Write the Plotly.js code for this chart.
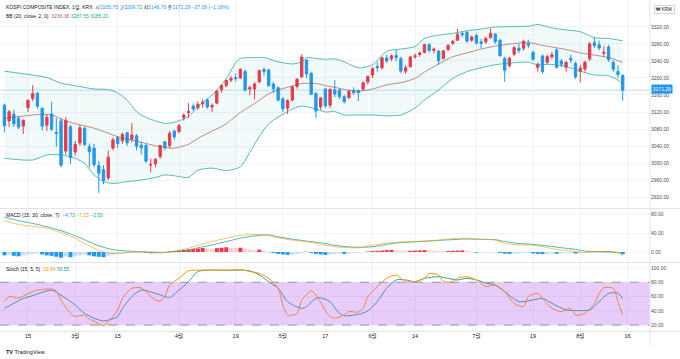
<!DOCTYPE html>
<html><head><meta charset="utf-8">
<script src="https://cdn.plot.ly/plotly-3.0.1.min.js"></script>
<style>html,body{margin:0;padding:0;background:#fff}#chart{width:680px;height:359px}</style>
</head><body><div id="chart"></div>
<script>
// ---- data: KOSPI daily, 2021 (MM-DD) ----
const dates=['02-04','02-05','02-08','02-09','02-10',
'02-15','02-16','02-17','02-18','02-19','02-22','02-23','02-24','02-25','02-26',
'03-02','03-03','03-04','03-05','03-08','03-09','03-10','03-11','03-12','03-15',
'03-16','03-17','03-18','03-19','03-22','03-23','03-24','03-25','03-26','03-29',
'03-30','03-31','04-01','04-02','04-05','04-06','04-07','04-08','04-09','04-12',
'04-13','04-14','04-15','04-16','04-19','04-20','04-21','04-22','04-23','04-26',
'04-27','04-28','04-29','04-30','05-03','05-04','05-06','05-07','05-10','05-11',
'05-12','05-13','05-14','05-17','05-18','05-20','05-21','05-24','05-25','05-26',
'05-27','05-28','05-31','06-01','06-02','06-03','06-04','06-07','06-08','06-09',
'06-10','06-11','06-14','06-15','06-16','06-17','06-18','06-21','06-22','06-23',
'06-24','06-25','06-28','06-29','06-30','07-01','07-02','07-05','07-06','07-07',
'07-08','07-09','07-12','07-13','07-14','07-15','07-16','07-19','07-20','07-21',
'07-22','07-23','07-26','07-27','07-28','07-29','07-30','08-02','08-03','08-04',
'08-05','08-06','08-09','08-10','08-11','08-12','08-13'];

const openP=[3136,3099,3115,3105,3087,
3130,3152,3164,3129,3089,3115,3072,3099,3028,3085,
3026,3047,3082,3038,3035,2994,2984,2965,3035,3060,
3052,3071,3056,3064,3042,3041,2995,2998,3015,3050,
3041,3075,3074,3107,3118,3134,3130,3139,3148,3132,
3141,3172,3182,3195,3201,3200,3215,3174,3174,3191,
3220,3219,3186,3177,3151,3129,3148,3180,3203,3242,
3211,3164,3132,3174,3136,3172,3172,3156,3154,3170,
3170,3174,3191,3207,3227,3224,3247,3245,3253,3246,
3216,3227,3250,3255,3260,3278,3265,3263,3246,3267,
3282,3289,3305,3307,3289,3300,3285,3285,3295,3303,
3289,3246,3229,3256,3270,3270,3281,3260,3225,3252,
3237,3250,3266,3240,3225,3246,3234,3215,3221,3245,
3283,3278,3258,3273,3237,3215,3205.75];

const highP=[3140,3125,3125,3110,3102,
3150,3183,3167,3131,3115,3144,3106,3105,3108,3090,
3052,3090,3085,3046,3045,3005,2995,3030,3060,3063,
3072,3073,3094,3068,3050,3045,3010,3012,3043,3052,
3075,3078,3092,3116,3141,3140,3145,3150,3152,3140,
3172,3185,3196,3205,3210,3222,3220,3182,3190,3220,
3225,3222,3190,3180,3155,3150,3182,3200,3256,3245,
3215,3166,3155,3176,3176,3195,3175,3160,3172,3178,
3172,3192,3205,3226,3238,3250,3255,3255,3266,3250,
3230,3252,3258,3262,3280,3282,3272,3266,3266,3280,
3290,3316,3310,3310,3300,3304,3292,3297,3316,3306,
3292,3250,3250,3275,3280,3290,3290,3265,3236,3255,
3255,3262,3270,3245,3240,3255,3238,3230,3240,3285,
3295,3288,3275,3278,3242,3230,3209.72];

const lowP=[3072,3085,3085,3080,3068,
3120,3145,3128,3077,3075,3075,3038,2990,3020,2998,
3018,3040,3040,2990,2990,2930,2950,2960,3030,3035,
3045,3040,3048,3030,3020,3000,2978,2990,3010,3030,
3035,3055,3070,3100,3106,3122,3125,3130,3128,3120,
3138,3165,3178,3190,3192,3198,3168,3160,3150,3188,
3205,3180,3165,3145,3120,3115,3145,3175,3200,3200,
3160,3106,3125,3130,3130,3155,3150,3140,3150,3160,
3145,3170,3185,3200,3215,3220,3235,3240,3240,3212,
3210,3224,3245,3250,3258,3260,3258,3231,3244,3263,
3278,3287,3296,3283,3285,3278,3270,3280,3293,3280,
3250,3191,3225,3252,3258,3265,3270,3240,3215,3210,
3232,3245,3222,3225,3215,3235,3198,3190,3215,3240,
3270,3265,3250,3238,3215,3200,3146.76];

const closeP=[3087.55,3120.63,3091.96,3084.67,3100.58,
3147.00,3163.25,3133.73,3086.66,3107.62,3079.75,3070.09,2994.98,3099.69,3012.95,
3043.87,3082.99,3043.49,3026.26,2996.11,2976.12,2958.12,3013.70,3054.39,3045.71,
3067.17,3047.50,3066.01,3039.53,3035.46,3004.74,2996.35,3008.33,3041.01,3036.04,
3070.00,3061.42,3087.40,3112.80,3120.83,3127.20,3137.77,3143.26,3131.88,3135.59,
3169.08,3182.38,3194.33,3198.84,3198.62,3220.70,3171.66,3177.52,3186.10,3217.53,
3215.42,3181.47,3174.07,3147.86,3127.20,3147.00,3178.74,3197.20,3249.30,3209.43,
3161.66,3122.11,3153.32,3134.52,3173.05,3162.28,3156.42,3144.30,3168.43,3165.51,
3165.25,3188.73,3203.92,3221.87,3223.94,3247.43,3240.08,3252.12,3247.83,3216.18,
3224.20,3249.32,3252.13,3258.63,3278.68,3264.96,3267.93,3240.79,3263.88,3276.19,
3286.10,3302.84,3301.89,3286.68,3296.68,3282.06,3281.78,3293.21,3305.21,3285.34,
3252.68,3217.95,3246.47,3271.38,3264.81,3286.22,3276.91,3244.04,3232.70,3215.17,
3250.21,3254.42,3224.95,3232.61,3236.86,3242.65,3202.32,3223.04,3237.14,3280.38,
3276.13,3270.36,3260.42,3243.19,3220.62,3208.38,3171.29];

// Bollinger Bands (20, close, 2)
const bbUpper=[['02-04',3216],['02-16',3207],['02-19',3201],['02-24',3188],['03-03',3180],['03-08',3174],['03-11',3173],['03-15',3165],['03-17',3148],['03-19',3121],['03-23',3107],['03-25',3099],['03-29',3093],['03-31',3096],['04-05',3109],['04-07',3133],['04-12',3160],['04-15',3198],['04-19',3236],['04-20',3246],['04-23',3248],['04-27',3248],['04-30',3238],['05-06',3233],['05-10',3238],['05-11',3248],['05-13',3246],['05-17',3244],['05-20',3245],['05-24',3238],['05-27',3224],['06-01',3231],['06-04',3263],['06-09',3268],['06-14',3274],['06-16',3293],['06-21',3301],['06-24',3305],['06-29',3311],['07-02',3315],['07-07',3320],['07-13',3321],['07-16',3322],['07-20',3326],['07-23',3318],['07-28',3313],['08-02',3309],['08-05',3295],['08-10',3293],['08-13',3287.55]];
const bbBasis=[['02-04',3105],['02-09',3109],['02-17',3114],['02-22',3113],['02-25',3099],['03-03',3090],['03-08',3082],['03-11',3070],['03-15',3062],['03-18',3054],['03-23',3046],['03-26',3038],['03-31',3035],['04-05',3044],['04-07',3058],['04-12',3075],['04-15',3092],['04-20',3119],['04-23',3140],['04-28',3163],['04-30',3172],['05-06',3181],['05-10',3187],['05-13',3187],['05-17',3182],['05-20',3178],['05-24',3173],['05-27',3169],['06-01',3174],['06-04',3184],['06-09',3189],['06-14',3199],['06-16',3214],['06-21',3233],['06-24',3250],['06-29',3259],['07-02',3268],['07-07',3275],['07-13',3281],['07-16',3284],['07-20',3279],['07-23',3273],['07-28',3267],['08-02',3259],['08-05',3254],['08-09',3250],['08-11',3245],['08-13',3236.38]];
const bbLower=[['02-04',3011],['02-16',3007],['02-19',3019],['02-24',3019],['03-02',3011],['03-04',2999],['03-08',2972],['03-10',2956],['03-12',2952],['03-17',2956],['03-22',2960],['03-25',2966],['03-29',2972],['03-31',2970],['04-05',2966],['04-07',2983],['04-12',2988],['04-15',2982],['04-20',2991],['04-22',3025],['04-26',3062],['04-28',3092],['04-30',3108],['05-06',3127],['05-10',3134],['05-13',3127],['05-17',3120],['05-20',3121],['05-24',3113],['05-27',3113],['06-01',3113],['06-04',3111],['06-09',3113],['06-14',3129],['06-16',3148],['06-21',3172],['06-24',3199],['06-29',3215],['07-02',3224],['07-07',3231],['07-13',3236],['07-16',3237],['07-20',3231],['07-23',3232],['07-28',3227],['08-02',3216],['08-05',3207],['08-10',3205],['08-12',3195],['08-13',3185.2]];

// MACD (15, 30, close, 7)
const macdHist=[-7,-6,-8,-9,-7,
-5,-4,-3,-5,-7,-8,-10,-12,-9,-11,
-9,-7,-5,-7,-9,-10,-11,-8,-6,-4.5,
-3.5,-2.5,-1.8,-1.2,-0.8,-1.5,-2.5,-2,-1,-0.5,
1,2,3,4.5,5.5,6.5,7.5,8.5,7.5,7,
8,9,10,9,8,9,7,5,4,5,
3,-0.5,-2,-4,-5,-6,-5.5,-4,-2,0.5,
-2,-4,-5,-6,-5,-4,-3,-4,-3,-2,
-1.5,-0.5,1,2,2.5,3,4,4.5,3.5,2.5,
2,2.5,3,3.5,4,3.5,3,2,1.5,2,
2.5,3,3.5,2.5,1,-1.5,-1.2,-1,-0.8,-0.6,
-2,-3.5,-4,-3,-2.5,-2,-1.5,-3,-4,-4.5,
-4,-3,-3.5,-3,-2.5,-2,-3,-2.5,-1.5,0.5,
1,1.5,2,2.2,1.5,0.5,-4.73];
const macdLine=[['02-04',66],['02-09',58],['02-16',54],['02-19',50],['02-24',41],['03-02',29],['03-04',18],['03-08',8],['03-10',0],['03-12',-3],['03-16',-2],['03-19',0],['03-23',-1],['03-26',-2],['03-31',2],['04-05',8],['04-07',14],['04-12',22],['04-15',29],['04-20',35],['04-23',37],['04-28',35],['04-30',30],['05-06',25],['05-11',22],['05-14',16],['05-20',11],['05-25',9],['05-27',9],['06-01',14],['06-04',19],['06-09',21],['06-14',22],['06-17',24],['06-21',25],['06-24',28.5],['06-29',28.5],['07-02',26.5],['07-07',25],['07-09',18],['07-14',15],['07-19',14.5],['07-22',9],['07-27',4],['07-30',1.5],['08-03',-1.5],['08-05',0.5],['08-10',1],['08-12',-1.2],['08-13',-7.23]];
const macdSignal=[['02-04',73],['02-09',66],['02-17',58],['02-24',45],['03-03',30],['03-09',13],['03-12',5],['03-18',1.5],['03-24',0],['03-29',-0.7],['03-31',0.7],['04-05',4],['04-07',9],['04-12',15],['04-15',22],['04-20',29],['04-23',34],['04-28',36],['04-30',32],['05-06',27],['05-11',23],['05-14',19.5],['05-20',14],['05-25',11],['05-27',10],['06-01',11],['06-04',16],['06-09',20],['06-14',21.5],['06-17',23],['06-21',24.5],['06-24',26],['06-29',27.5],['07-02',26.7],['07-07',26],['07-09',22],['07-14',18],['07-19',16],['07-22',13],['07-27',9],['07-30',5.6],['08-03',2],['08-05',0.7],['08-10',0],['08-12',-1.5],['08-13',-2.5]];

// Stochastic (15, 5, 5)
const stochK=[['02-04',53],['02-05',60],['02-09',58],['02-15',64],['02-17',69],['02-22',70.5],['02-23',68],['02-24',55],['02-26',36],['03-02',32],['03-04',34],['03-05',28.5],['03-08',25.5],['03-10',19],['03-11',24.5],['03-15',41],['03-16',57],['03-18',71.5],['03-22',72],['03-23',67],['03-25',55],['03-26',54],['03-29',60],['03-30',76],['04-01',85.5],['04-05',96],['04-07',97],['04-12',97],['04-14',97],['04-16',97],['04-20',98],['04-22',95],['04-26',92.5],['04-28',85.5],['04-30',71.5],['05-03',48],['05-04',34],['05-07',36],['05-10',55],['05-12',67.7],['05-13',62],['05-14',52],['05-17',40],['05-18',32],['05-20',29.5],['05-24',34],['05-25',38.8],['05-27',38],['05-28',43.4],['05-31',59.8],['06-02',73.8],['06-04',85.5],['06-08',90.2],['06-10',80.8],['06-14',80.8],['06-16',85.5],['06-17',92.5],['06-21',90],['06-22',80.8],['06-24',80.8],['06-25',85.5],['06-29',87.8],['07-01',83.2],['07-02',78.5],['07-05',73.8],['07-07',76],['07-09',66.8],['07-13',50.4],['07-15',45.7],['07-16',59.8],['07-20',64.4],['07-21',57.4],['07-23',43.4],['07-27',38.8],['07-29',43.4],['07-30',34],['08-03',36.4],['08-05',50.4],['08-06',64.4],['08-09',72.4],['08-11',71.5],['08-12',52.7],['08-13',33.94]];
const stochD=[['02-04',43.4],['02-08',50.4],['02-10',57.4],['02-16',61.2],['02-18',65.8],['02-22',69],['02-24',62],['03-02',48],['03-04',36.4],['03-08',29.4],['03-10',25.6],['03-11',27],['03-15',31.7],['03-16',43.4],['03-18',59.8],['03-22',69],['03-25',64.4],['03-29',60],['03-30',58.4],['04-01',69],['04-05',80.8],['04-07',95],['04-09',97],['04-14',97],['04-16',97],['04-20',97],['04-22',96],['04-26',90.2],['04-28',80.8],['04-30',71.5],['05-04',52.7],['05-10',43.4],['05-11',45.7],['05-13',57.4],['05-14',58],['05-17',56],['05-18',52.7],['05-21',36.4],['05-24',33],['05-27',35],['05-31',39.7],['06-02',52.7],['06-04',71.5],['06-08',83.2],['06-10',83.2],['06-14',80.8],['06-16',85.5],['06-21',87.8],['06-23',85.5],['06-25',83.2],['06-29',85.5],['07-01',83.2],['07-05',79],['07-07',76.1],['07-09',66.8],['07-14',52.7],['07-19',55.1],['07-21',57.4],['07-23',50.4],['07-28',41.1],['08-02',40.2],['08-04',41.1],['08-06',52.7],['08-10',64.4],['08-12',64.4],['08-13',56.55]];

const tickDates=['02-15','03-02','03-15','04-01','04-19','05-03','05-17','06-01','06-14','07-01','07-19','08-02','08-16'];
const tickLabels=['15','3월','15','4월','19','5월','17','6월','14','7월','19','8월','16'];

// ---- drawing ----
const N=dates.length;
const xs=dates.map((d,i)=>i);
const pos=d=>{const i=dates.indexOf(d);return i>=0?i:N;};
const series=p=>{const q=p.filter(v=>dates.indexOf(v[0])>=0);return {x:q.map(v=>dates.indexOf(v[0])),y:q.map(v=>v[1])};};

const UP='#f23645', DOWN='#2196f3', TEAL='#26a69a', ORANGE='#ff9800', BASIS='#b5655c';
const FONT='"Liberation Sans", Arial, "Noto Sans CJK KR", sans-serif';

const histColors=macdHist.map((h,i)=>{
  const p=i>0?macdHist[i-1]:h;
  if(h>=0) return h>=p?'#f23645':'#ffcdd2';
  return h<=p?'#2196f3':'#bbdefb';
});

const U=series(bbUpper), B=series(bbBasis), L=series(bbLower);
const M=series(macdLine), S=series(macdSignal);
const K=series(stochK), Dd=series(stochD);
const sp={shape:'spline',smoothing:0.7};

const traces=[
 {type:'scatter',mode:'lines',x:U.x,y:U.y,line:Object.assign({color:'rgba(38,166,154,0.75)',width:1},sp),xaxis:'x',yaxis:'y',hoverinfo:'skip'},
 {type:'scatter',mode:'lines',x:L.x,y:L.y,line:Object.assign({color:'rgba(38,166,154,0.75)',width:1},sp),fill:'tonexty',fillcolor:'rgba(38,166,154,0.06)',xaxis:'x',yaxis:'y',hoverinfo:'skip'},
 {type:'scatter',mode:'lines',x:B.x,y:B.y,line:Object.assign({color:'rgba(160,80,70,0.65)',width:1},sp),xaxis:'x',yaxis:'y',hoverinfo:'skip'},
 {type:'candlestick',x:xs,open:openP,high:highP,low:lowP,close:closeP,xaxis:'x',yaxis:'y',whiskerwidth:0,
   increasing:{line:{color:UP,width:1},fillcolor:UP},decreasing:{line:{color:DOWN,width:1},fillcolor:DOWN},hoverinfo:'skip'},
 {type:'bar',x:xs,y:macdHist,marker:{color:histColors,line:{width:0}},width:0.85,xaxis:'x',yaxis:'y2',hoverinfo:'skip'},
 {type:'scatter',mode:'lines',x:S.x,y:S.y,line:Object.assign({color:'rgba(38,166,154,0.8)',width:1},sp),xaxis:'x',yaxis:'y2',hoverinfo:'skip'},
 {type:'scatter',mode:'lines',x:M.x,y:M.y,line:Object.assign({color:'rgba(255,152,0,0.6)',width:1},sp),xaxis:'x',yaxis:'y2',hoverinfo:'skip'},
 {type:'scatter',mode:'lines',x:Dd.x,y:Dd.y,line:Object.assign({color:TEAL,width:1},sp),xaxis:'x',yaxis:'y3',hoverinfo:'skip'},
 {type:'scatter',mode:'lines',x:K.x,y:K.y,line:Object.assign({color:ORANGE,width:1},sp),xaxis:'x',yaxis:'y3',hoverinfo:'skip'}
];

const last=N-1;
const f2=v=>(v<0?'−':'')+Math.abs(v).toFixed(2);
const chg=closeP[last]-closeP[last-1];
const pct=chg/closeP[last-1]*100;
const col=(c,t)=>`<span style="color:${c}">${t}</span>`;
const priceCol=chg<0?DOWN:UP;
const line1='KOSPI COMPOSITE INDEX, 1일, KRX&nbsp;&nbsp;시'+col(priceCol,f2(openP[last]))+' 고'+col(priceCol,f2(highP[last]))+
  ' 저'+col(priceCol,f2(lowP[last]))+' 종'+col(priceCol,f2(closeP[last]))+' '+col(priceCol,f2(chg)+' ('+f2(pct)+'%)');
const line2='BB (20, close, 2, 0)&nbsp;&nbsp;'+col(BASIS,f2(B.y[B.y.length-1]))+' '+col(TEAL,f2(U.y[U.y.length-1]))+' '+col(TEAL,f2(L.y[L.y.length-1]));
const line3='MACD (15, 30, close, 7)&nbsp;&nbsp;'+col(DOWN,f2(macdHist[last]))+' '+col(ORANGE,f2(M.y[M.y.length-1]))+' '+col(TEAL,f2(S.y[S.y.length-1]));
const line4='Stoch (15, 5, 5)&nbsp;&nbsp;'+col(ORANGE,f2(K.y[K.y.length-1]))+' '+col(TEAL,f2(Dd.y[Dd.y.length-1]));

const PH=331; // plot area height in px
const py=px=>(PH-px)/PH;
const grid='#f0f3fa', sep='#e0e3eb';
const tickfont={size:5,color:'#4a4e59',family:FONT};

const priceTicks=[];for(let v=2920;v<=3320;v+=40)priceTicks.push(v);

const layout={
 width:680,height:359,margin:{l:0,r:30,t:0,b:28},
 paper_bgcolor:'#fff',plot_bgcolor:'#fff',showlegend:false,hovermode:false,
 font:{family:FONT,size:5,color:'#131722'},
 bargap:0.1,
 xaxis:{type:'linear',range:[-0.93,136.78],anchor:'y3',tickvals:tickDates.map(pos),ticktext:tickLabels,
   showgrid:true,gridcolor:grid,gridwidth:1,zeroline:false,showline:false,ticks:'',tickfont:{size:5.5,color:'#131722',family:FONT},
   rangeslider:{visible:false},fixedrange:true},
 yaxis:{domain:[py(207.5),1],range:[2895.3,3383.5],side:'right',anchor:'x',tickvals:priceTicks,tickformat:'.2f',
   showgrid:true,gridcolor:grid,zeroline:false,showline:false,ticks:'',tickfont},
 yaxis2:{domain:[py(262),py(209)],range:[-21,90.5],side:'right',anchor:'x',tickvals:[0,40,80],tickformat:'.2f',
   showgrid:true,gridcolor:grid,zeroline:false,showline:false,ticks:'',tickfont},
 yaxis3:{domain:[0,py(263)],range:[11.6,107],side:'right',anchor:'x',tickvals:[20,40,60,80,100],tickformat:'.2f',
   showgrid:true,gridcolor:grid,zeroline:false,showline:false,ticks:'',tickfont},
 shapes:[
  {type:'rect',xref:'paper',x0:0,x1:1,yref:'y3',y0:20,y1:80,fillcolor:'rgba(180,90,240,0.3)',line:{width:0},layer:'above'},
  {type:'line',xref:'paper',x0:0,x1:1,yref:'y3',y0:80,y1:80,line:{color:'#9598a1',width:1,dash:'dash'},layer:'above'},
  {type:'line',xref:'paper',x0:0,x1:1,yref:'y3',y0:20,y1:20,line:{color:'#9598a1',width:1,dash:'dash'},layer:'above'},
  {type:'line',xref:'paper',x0:0,x1:1,yref:'y',y0:closeP[last],y1:closeP[last],line:{color:'rgba(33,150,243,0.3)',width:1},layer:'below'},
  {type:'line',xref:'paper',x0:0,x1:1.046,yref:'paper',y0:py(208.5),y1:py(208.5),line:{color:sep,width:1}},
  {type:'line',xref:'paper',x0:0,x1:1.046,yref:'paper',y0:py(262.5),y1:py(262.5),line:{color:sep,width:1}},
  {type:'line',xref:'paper',x0:0,x1:1.046,yref:'paper',y0:py(331.5),y1:py(331.5),line:{color:sep,width:1}},
  {type:'line',xref:'paper',x0:1,x1:1,yref:'paper',y0:py(345),y1:1,line:{color:sep,width:1}}
 ],
 annotations:[
  {xref:'paper',yref:'paper',x:4/650,y:py(7),xanchor:'left',yanchor:'middle',showarrow:false,text:line1,font:{size:5,color:'#131722',family:FONT}},
  {xref:'paper',yref:'paper',x:4/650,y:py(16),xanchor:'left',yanchor:'middle',showarrow:false,text:line2,font:{size:5,color:'#131722',family:FONT}},
  {xref:'paper',yref:'paper',x:4/650,y:py(214.5),xanchor:'left',yanchor:'middle',showarrow:false,text:line3,font:{size:5,color:'#131722',family:FONT}},
  {xref:'paper',yref:'paper',x:4/650,y:py(268.5),xanchor:'left',yanchor:'middle',showarrow:false,text:line4,font:{size:5,color:'#131722',family:FONT}},
  {xref:'paper',yref:'y',x:1,y:closeP[last],xanchor:'left',yanchor:'middle',xshift:1,yshift:1.5,showarrow:false,text:f2(closeP[last]),
    bgcolor:DOWN,borderpad:0.8,font:{size:5,color:'#ffffff',family:FONT}},
  {xref:'paper',yref:'paper',x:1,y:py(10),xanchor:'left',yanchor:'middle',xshift:4,showarrow:false,text:'₩ KRW',
    bordercolor:'#d1d4dc',borderwidth:1,borderpad:1,font:{size:4.5,color:'#131722',family:FONT}},
  {xref:'paper',yref:'paper',x:4/650,y:py(352),xanchor:'left',yanchor:'middle',showarrow:false,text:'<b>TV</b> TradingView',
    font:{size:5.5,color:'#131722',family:FONT}}
 ]
};

Plotly.newPlot('chart',traces,layout,{staticPlot:true,displayModeBar:false});
</script></body></html>
